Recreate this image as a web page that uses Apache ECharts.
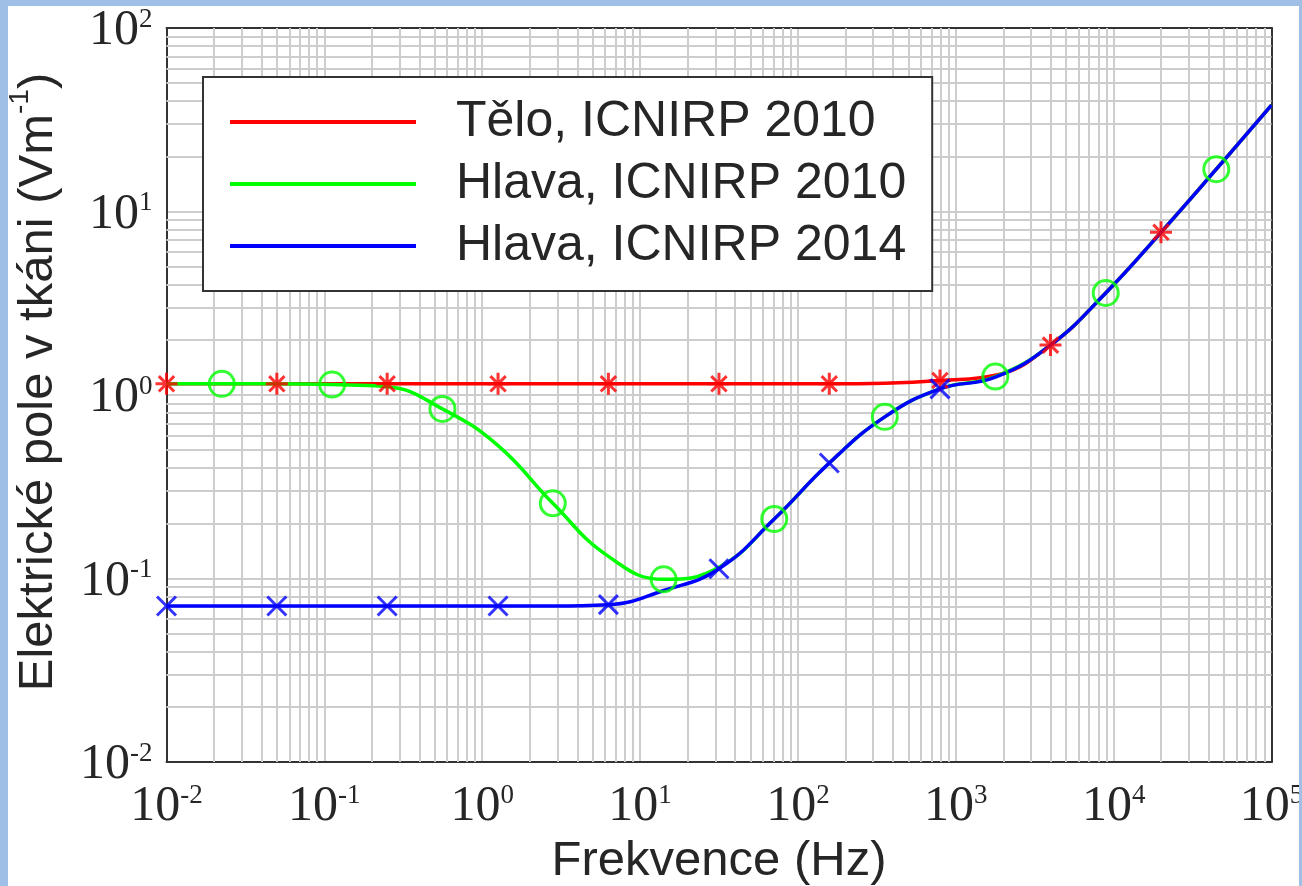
<!DOCTYPE html>
<html>
<head>
<meta charset="utf-8">
<script src="https://cdn.jsdelivr.net/npm/echarts@6/dist/echarts.min.js"></script>
<style>
html,body{margin:0;padding:0;background:#9fbfe6;width:1302px;height:886px;overflow:hidden;}
#chart{position:absolute;left:8px;top:6px;width:1291px;height:880px;background:#ffffff;}
</style>
</head>
<body>
<div id="chart"></div>
<script>
// ---- data ----
const freqHz = [0.01, 0.0224, 0.05, 0.112, 0.25, 0.56, 1.26, 2.8, 6.3, 14.1, 31.6, 70.8, 158, 355, 794, 1780, 3980, 8910, 19950, 44700, 100000];
const teloICNIRP2010 = [1.15, 1.15, 1.15, 1.15, 1.15, 1.15, 1.15, 1.15, 1.15, 1.15, 1.15, 1.15, 1.15, 1.16, 1.20, 1.28, 1.87, 3.6, 7.7, 17, 38];
const hlavaICNIRP2010 = [1.15, 1.15, 1.15, 1.14, 1.11, 0.84, 0.53, 0.257, 0.132, 0.099, 0.115, 0.211, 0.426, 0.76, 1.08, 1.26, 1.87, 3.6, 7.7, 17, 38];
const hlavaICNIRP2014 = [0.0708, 0.0708, 0.0708, 0.0708, 0.0708, 0.0708, 0.0708, 0.0708, 0.072, 0.086, 0.113, 0.211, 0.426, 0.76, 1.08, 1.25, 1.87, 3.6, 7.7, 17, 38];
// indices of points carrying markers
const teloMarkerIdx = [0, 2, 4, 6, 8, 10, 12, 14, 16, 18];
const hlava2010MarkerIdx = [1, 3, 5, 7, 9, 11, 13, 15, 17, 19];
const hlava2014MarkerIdx = [0, 2, 4, 6, 8, 10, 12, 14];
const seriesNames = ['Tělo, ICNIRP 2010', 'Hlava, ICNIRP 2010', 'Hlava, ICNIRP 2014'];
const xTickExponents = [-2, -1, 0, 1, 2, 3, 4, 5];
const yTickExponents = [-2, -1, 0, 1, 2];
const minorMantissas = [2, 3, 4, 5, 6, 7, 8, 9];
const xTitle = 'Frekvence (Hz)';
const yTitleMain = 'Elektrické pole v tkáni (Vm';
const yTitleSup = '-1';

const colors = ['#ff0000', '#00ff00', '#0000ff'];
const gridColor = '#cdcdcd';
const frameColor = '#333333';
const textColor = '#262626';

function pairs(vals) { return freqHz.map((f, i) => [f, vals[i]]); }
function markerPairs(vals, idx) { return idx.map(i => [freqHz[i], vals[i]]); }

const minorX = [];
for (let e = xTickExponents[0]; e < xTickExponents[xTickExponents.length - 1]; e++) {
  minorMantissas.forEach(m => minorX.push({ xAxis: m * Math.pow(10, e) }));
}
const minorY = [];
for (let e = yTickExponents[0]; e < yTickExponents[yTickExponents.length - 1]; e++) {
  minorMantissas.forEach(m => minorY.push({ yAxis: m * Math.pow(10, e) }));
}

const tickRich = {
  b: { fontFamily: 'Liberation Serif', fontSize: 50, color: textColor, lineHeight: 50, verticalAlign: 'bottom' },
  s: { fontFamily: 'Liberation Serif', fontSize: 27, color: textColor, lineHeight: 17, verticalAlign: 'top' }
};
function expLabel(v) {
  const e = Math.round(Math.log10(v));
  return '{b|10}{s|' + e + '}';
}

const starPath = 'path://M10 0 L10 20 M0 10 L20 10 M3 3 L17 17 M17 3 L3 17';
const crossPath = 'path://M0 0 L20 20 M20 0 L0 20';
const lineW = 3.5;

const chart = echarts.init(document.getElementById('chart'), null, { renderer: 'canvas' });
chart.setOption({
  animation: false,
  backgroundColor: '#ffffff',
  grid: { left: 158.5, right: 27.5, top: 22, bottom: 124, show: false, containLabel: false, outerBoundsMode: 'none' },
  legend: {
    data: seriesNames,
    orient: 'vertical',
    left: 195, top: 71,
    padding: [14, 26, 14, 27],
    itemGap: 0,
    itemWidth: 186,
    itemHeight: 4,
    icon: 'rect',
    backgroundColor: '#ffffff',
    borderColor: frameColor,
    borderWidth: 2,
    borderRadius: 0,
    selectedMode: false,
    textStyle: { fontFamily: 'Liberation Sans', fontSize: 50, color: textColor, lineHeight: 62, padding: [0, 0, 0, 35] }
  },
  xAxis: [{
    type: 'log', logBase: 10, min: 0.01, max: 100000, splitNumber: 7,
    position: 'bottom',
    axisLine: { show: true, onZero: false, lineStyle: { color: frameColor, width: 2 } },
    axisTick: { show: false },
    splitLine: { show: true, lineStyle: { color: gridColor, width: 2 } },
    axisLabel: { formatter: expLabel, rich: tickRich, margin: 20, showMinLabel: true, showMaxLabel: true, hideOverlap: false },
    name: xTitle, nameLocation: 'middle', nameGap: 72,
    nameTextStyle: { fontFamily: 'Liberation Sans', fontSize: 49, color: textColor }
  }, {
    type: 'log', logBase: 10, min: 0.01, max: 100000, position: 'top',
    axisLine: { show: true, onZero: false, lineStyle: { color: frameColor, width: 2 } },
    axisTick: { show: false }, axisLabel: { show: false }, splitLine: { show: false }
  }],
  yAxis: [{
    type: 'log', logBase: 10, min: 0.01, max: 100, splitNumber: 4,
    position: 'left',
    axisLine: { show: true, onZero: false, lineStyle: { color: frameColor, width: 2 } },
    axisTick: { show: false },
    splitLine: { show: true, lineStyle: { color: gridColor, width: 2 } },
    axisLabel: { formatter: expLabel, rich: tickRich, margin: 14, padding: [6, 0, 0, 0], showMinLabel: true, showMaxLabel: true, hideOverlap: false },
    name: '{a|' + yTitleMain + '}{s|' + yTitleSup + '}{a|)}',
    nameLocation: 'middle', nameGap: 104,
    nameTextStyle: {
      padding: [0, 0, 0, 26],
      rich: {
        a: { fontFamily: 'Liberation Sans', fontSize: 49, color: textColor, lineHeight: 56, verticalAlign: 'bottom' },
        s: { fontFamily: 'Liberation Sans', fontSize: 28, color: textColor, lineHeight: 30, verticalAlign: 'top' }
      }
    }
  }, {
    type: 'log', logBase: 10, min: 0.01, max: 100, position: 'right',
    axisLine: { show: true, onZero: false, lineStyle: { color: frameColor, width: 2 } },
    axisTick: { show: false }, axisLabel: { show: false }, splitLine: { show: false }
  }],
  series: [
    {
      name: 'grid-minor', type: 'line', data: [], xAxisIndex: 0, yAxisIndex: 0, silent: true,
      markLine: {
        silent: true, z: 1, symbol: ['none', 'none'], animation: false,
        label: { show: false }, emphasis: { disabled: true },
        lineStyle: { color: gridColor, width: 2, type: 'solid' },
        data: minorX.concat(minorY)
      }
    },
    {
      name: seriesNames[0], type: 'line', data: pairs(teloICNIRP2010), smooth: 0.45, symbol: 'none', z: 2,
      lineStyle: { color: colors[0], width: lineW }, itemStyle: { color: colors[0] }, silent: true
    },
    {
      name: seriesNames[1], type: 'line', data: pairs(hlavaICNIRP2010), smooth: 0.45, symbol: 'none', z: 2,
      lineStyle: { color: colors[1], width: lineW }, itemStyle: { color: colors[1] }, silent: true
    },
    {
      name: seriesNames[2], type: 'line', data: pairs(hlavaICNIRP2014), smooth: 0.45, symbol: 'none', z: 2,
      lineStyle: { color: colors[2], width: lineW }, itemStyle: { color: colors[2] }, silent: true
    },
    {
      name: 'm1', type: 'scatter', data: markerPairs(teloICNIRP2010, teloMarkerIdx), z: 3, silent: true,
      symbol: starPath, symbolSize: 22,
      itemStyle: { color: 'rgba(0,0,0,0)', borderColor: colors[0], borderWidth: 3 }
    },
    {
      name: 'm2', type: 'scatter', data: markerPairs(hlavaICNIRP2010, hlava2010MarkerIdx), z: 3, silent: true,
      symbol: 'circle', symbolSize: 25,
      itemStyle: { color: 'rgba(0,0,0,0)', borderColor: colors[1], borderWidth: 3 }
    },
    {
      name: 'm3', type: 'scatter', data: markerPairs(hlavaICNIRP2014, hlava2014MarkerIdx), z: 3, silent: true,
      symbol: crossPath, symbolSize: 19,
      itemStyle: { color: 'rgba(0,0,0,0)', borderColor: colors[2], borderWidth: 3 }
    }
  ]
});
</script>
</body>
</html>
